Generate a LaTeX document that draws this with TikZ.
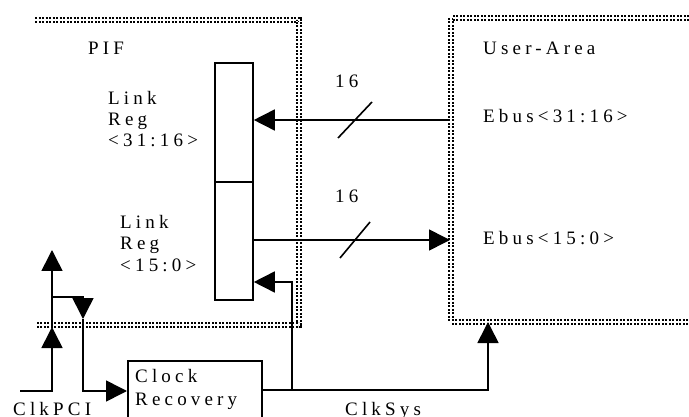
\documentclass[tikz,border=0pt]{standalone}
\usepackage{fontspec}
\setmainfont{Liberation Serif}[LetterSpace=22]
\usetikzlibrary{arrows.meta}
\begin{document}
\begin{tikzpicture}[x=1pt,y=-1pt,
  lbl/.style={anchor=base west, inner sep=0pt, font=\fontsize{19}{22}\selectfont},
  wire/.style={line width=1.6pt},
  tip/.style={-{Triangle[length=21pt,width=21pt]}},
  border/.style={line width=2pt, double distance=1.3pt, dash pattern=on 2pt off 1.5pt},
  box/.style={draw, line width=1.6pt, inner sep=0pt, fill=white}]
\useasboundingbox (0,0) rectangle (689,417);
% borders
\draw[border] (35,20) -- (299,20) -- (299,325) -- (37,325);
\draw[border] (689,18) -- (451,18) -- (451,322) -- (689,322);
% register
\node[box, minimum width=38pt, minimum height=119pt] (regTop) at (234,122.5) {};
\node[box, minimum width=38pt, minimum height=118pt] (regBot) at (234,241) {};
% clock recovery
\node[box, minimum width=134pt, minimum height=90pt, anchor=north west] (clk) at (127,360) {};
% labels
\node[lbl] (pif) at (88,55) {PIF};
\node[lbl] (ua) at (483,55) {User-Area};
\node[lbl] (l1a) at (108,105) {Link};
\node[lbl] (l1b) at (108,126) {Reg};
\node[lbl] (l1c) at (108,147) {<31:16>};
\node[lbl] (l2a) at (120,229) {Link};
\node[lbl] (l2b) at (120,250) {Reg};
\node[lbl] (l2c) at (120,272) {<15:0>};
\node[lbl] (n1) at (335,88) {16};
\node[lbl] (n2) at (335,203) {16};
\node[lbl] (e1) at (483,123) {Ebus<31:16>};
\node[lbl] (e2) at (483,244) {Ebus<15:0>};
\node[lbl] (ck1) at (135,382) {Clock};
\node[lbl] (ck2) at (135,405) {Recovery};
\node[lbl] (pci) at (13,415) {ClkPCI};
\node[lbl] (sys) at (345,415) {ClkSys};
% buses
\coordinate (ua1) at (450,120);
\draw[wire,tip] (ua1) -- (regTop.east |- ua1);
\draw[wire] (338,138) -- (372,102);
\coordinate (ua2) at (450,240);
\draw[wire,tip] (regBot.east |- ua2) -- (ua2);
\draw[wire] (340,258) -- (370,222);
% ClkSys
\coordinate (clkOut) at (clk.east |- 0,390);
\coordinate (uaB) at (488,322);
\draw[wire,tip] (clkOut) -- (488,390) -- (uaB);
\coordinate (br) at (292,390);
\draw[wire,tip] (br) -- (292,282) -- (regBot.east |- 0,282);
% ClkPCI
\coordinate (pciIn) at (20,391);
\coordinate (pifB) at (52,327);
\coordinate (pciUp) at (52,250);
\coordinate (dn) at (83,319);
\draw[wire,tip] (pciIn) -- (52,391) -- (pifB);
\draw[wire,tip] (pifB) -- (pciUp);
\draw[wire,tip] (52,297) -- (83,297) -- (dn);
\draw[wire,tip] (dn) -- (83,391) -- (clk.west |- 0,391);
\end{tikzpicture}
\end{document}
